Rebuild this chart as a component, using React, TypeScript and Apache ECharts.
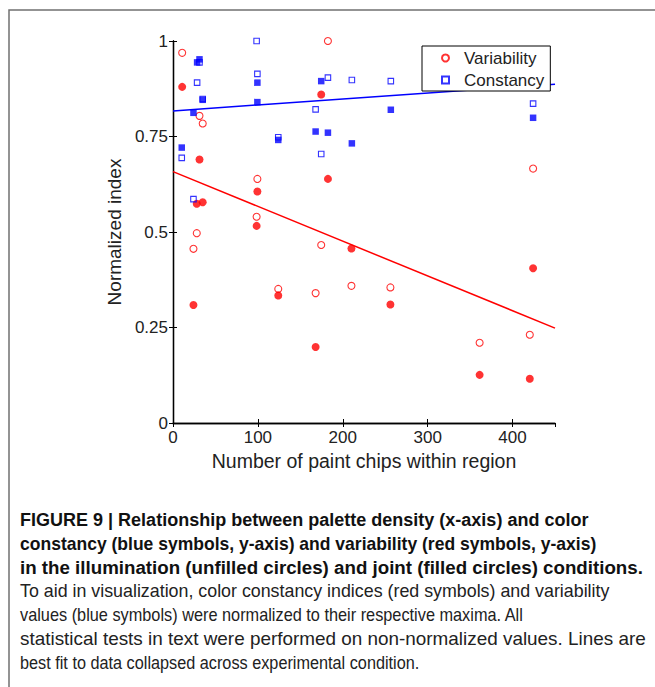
import React, { useEffect, useRef } from "react";
import * as echarts from "echarts";

// [number of paint chips, normalized index]
const illumVariability: [number, number][] = [
  [10.8, 0.969], [24.1, 0.456], [28, 0.497], [31.2, 0.804], [35, 0.784],
  [98.5, 0.54], [99.4, 0.639], [124, 0.351], [168, 0.34], [174.6, 0.466],
  [182.5, 1.0], [210.2, 0.359], [256.1, 0.355], [361.2, 0.21], [420.3, 0.231],
  [424.2, 0.666],
];
const jointVariability: [number, number][] = [
  [10.8, 0.88], [24.1, 0.309], [28, 0.574], [31.2, 0.69], [35, 0.578],
  [98.5, 0.516], [99.4, 0.606], [124, 0.334], [168, 0.199], [174.6, 0.86],
  [182.5, 0.639], [210.2, 0.457], [256.1, 0.31], [361.2, 0.126], [420.3, 0.116],
  [424.2, 0.405],
];
const illumConstancy: [number, number][] = [
  [10.3, 0.694], [24.1, 0.586], [28.4, 0.891], [31.2, 0.944], [35, 0.848],
  [98.5, 1.0], [99.4, 0.914], [124, 0.748], [168, 0.821], [174.6, 0.704],
  [182.5, 0.904], [210.7, 0.898], [256.6, 0.895], [424.2, 0.836],
];
const jointConstancy: [number, number][] = [
  [10.3, 0.721], [24.1, 0.812], [28.4, 0.944], [31.2, 0.952], [35, 0.846],
  [99.4, 0.84], [99.4, 0.891], [124, 0.741], [168, 0.763], [174.6, 0.895],
  [182.5, 0.76], [210.7, 0.732], [256.6, 0.82], [424.2, 0.799],
];
const variabilityFit: [number, number][] = [[0, 0.658], [450, 0.2485]];
const constancyFit: [number, number][] = [[0, 0.817], [450, 0.887]];

const legendNames = ["Variability", "Constancy"];
const xAxisTitle = "Number of paint chips within region";
const yAxisTitle = "Normalized index";

const boldLines = [
  "FIGURE 9 | Relationship between palette density (x-axis) and color",
  "constancy (blue symbols, y-axis) and variability (red symbols, y-axis)",
  "in the illumination (unfilled circles) and joint (filled circles) conditions.",
];
const plainLines = [
  "To aid in visualization, color constancy indices (red symbols) and variability",
  "values (blue symbols) were normalized to their respective maxima. All",
  "statistical tests in text were performed on non-normalized values. Lines are",
  "best fit to data collapsed across experimental condition.",
];
// right ends of the caption lines (the caption font is a condensed face)
const boldEnds = [589, 597, 643];
const plainEnds = [610, 524, 646, 420];

const FONT = '"Liberation Sans", Arial, Helvetica, sans-serif';
const RED = "#ff0000";
const BLUE = "#0000ff";

function measure(text: string, font: string): number {
  const c = document.createElement("canvas");
  const ctx = c.getContext("2d");
  if (!ctx) return text.length * 9;
  ctx.font = font;
  return ctx.measureText(text).width;
}

export default function App() {
  const ref = useRef<HTMLDivElement>(null);
  useEffect(() => {
    if (!ref.current) return;
    const chart = echarts.init(ref.current, undefined, { renderer: "svg" });

    const LEFT = 20;
    const captionEls: any[] = [];
    boldLines.forEach((t, i) => {
      const w = measure(t, `bold 18px "Liberation Sans"`);
      captionEls.push({
        type: "text",
        x: LEFT,
        y: 520 + i * 23.7,
        scaleX: (boldEnds[i] - LEFT) / w,
        style: {
          text: t,
          fontSize: 18,
          fontWeight: "bold",
          fontFamily: FONT,
          fill: "#111",
          verticalAlign: "middle",
        },
      });
    });
    plainLines.forEach((t, i) => {
      const w = measure(t, `17.5px "Liberation Sans"`);
      captionEls.push({
        type: "text",
        x: LEFT,
        y: 591 + i * 24,
        scaleX: (plainEnds[i] - LEFT) / w,
        style: {
          text: t,
          fontSize: 17.5,
          fontFamily: FONT,
          fill: "#222",
          verticalAlign: "middle",
        },
      });
    });

    const axisLine = { show: true, lineStyle: { color: "#000", width: 1.3 } };
    const tickIn = { show: true, inside: true, length: 4, lineStyle: { color: "#000", width: 1 } };

    chart.setOption({
      animation: false,
      backgroundColor: "#fff",
      textStyle: { fontFamily: FONT },
      grid: { left: 173, top: 41, width: 382, height: 382, containLabel: false },
      legend: {
        data: legendNames,
        orient: "vertical",
        left: 422,
        top: 46,
        padding: [3, 6, 2, 19],
        itemWidth: 7,
        itemHeight: 7,
        itemGap: 4,
        zlevel: 1,
        z: 20,
        backgroundColor: "#ffffff",
        borderColor: "#000",
        borderWidth: 1,
        borderRadius: 0,
        textStyle: {
          fontSize: 17,
          color: "#222",
          lineHeight: 18,
          fontFamily: FONT,
          padding: [0, 0, 0, 10],
        },
      },
      xAxis: [
        {
          type: "value",
          position: "bottom",
          min: 0,
          max: 450,
          interval: 100,
          name: xAxisTitle,
          nameLocation: "middle",
          nameGap: 18,
          nameTextStyle: { fontSize: 19.5, color: "#222", fontFamily: FONT },
          axisLine,
          axisTick: tickIn,
          splitLine: { show: false },
          axisLabel: { fontSize: 17, color: "#222", margin: 6, showMaxLabel: false, fontFamily: FONT },
        },
        {
          type: "value",
          position: "top",
          min: 0,
          max: 450,
          interval: 100,
          axisLine,
          axisTick: tickIn,
          splitLine: { show: false },
          axisLabel: { show: false },
        },
      ],
      yAxis: [
        {
          type: "value",
          position: "left",
          min: 0,
          max: 1,
          interval: 0.25,
          name: yAxisTitle,
          nameLocation: "middle",
          nameGap: 34,
          nameTextStyle: { fontSize: 19, color: "#222", fontFamily: FONT },
          axisLine,
          axisTick: tickIn,
          splitLine: { show: false },
          axisLabel: { fontSize: 17, color: "#222", margin: 5, fontFamily: FONT },
        },
        {
          type: "value",
          position: "right",
          min: 0,
          max: 1,
          interval: 0.25,
          axisLine,
          axisTick: tickIn,
          splitLine: { show: false },
          axisLabel: { show: false },
        },
      ],
      series: [
        {
          name: "Variability fit",
          type: "line",
          data: variabilityFit,
          symbol: "none",
          silent: true,
          z: 1,
          lineStyle: { color: RED, width: 1.5 },
        },
        {
          name: "Constancy fit",
          type: "line",
          data: constancyFit,
          symbol: "none",
          silent: true,
          z: 1,
          lineStyle: { color: BLUE, width: 1.5 },
        },
        {
          name: "Variability",
          type: "scatter",
          data: illumVariability,
          symbol: "circle",
          symbolSize: 7,
          clip: false,
          itemStyle: { color: "transparent", borderColor: RED, borderWidth: 1.1 },
        },
        {
          name: "Variability (joint)",
          type: "scatter",
          data: jointVariability,
          symbol: "circle",
          symbolSize: 8,
          clip: false,
          itemStyle: { color: RED },
        },
        {
          name: "Constancy",
          type: "scatter",
          data: illumConstancy,
          symbol: "rect",
          symbolSize: 5.5,
          clip: false,
          itemStyle: { color: "transparent", borderColor: BLUE, borderWidth: 1.1 },
        },
        {
          name: "Constancy (joint)",
          type: "scatter",
          data: jointConstancy,
          symbol: "rect",
          symbolSize: 6.5,
          clip: false,
          itemStyle: { color: BLUE },
        },
      ],
      graphic: [
        {
          type: "rect",
          shape: { x: 9, y: 10, width: 720, height: 720 },
          style: { fill: "none", stroke: "#707070", lineWidth: 1.5 },
          silent: true,
        },
        ...captionEls,
      ],
    });
    return () => chart.dispose();
  }, []);
  return (
    <div
      ref={ref}
      style={{ position: "absolute", left: 0, top: 0, width: 655, height: 687 }}
    />
  );
}
